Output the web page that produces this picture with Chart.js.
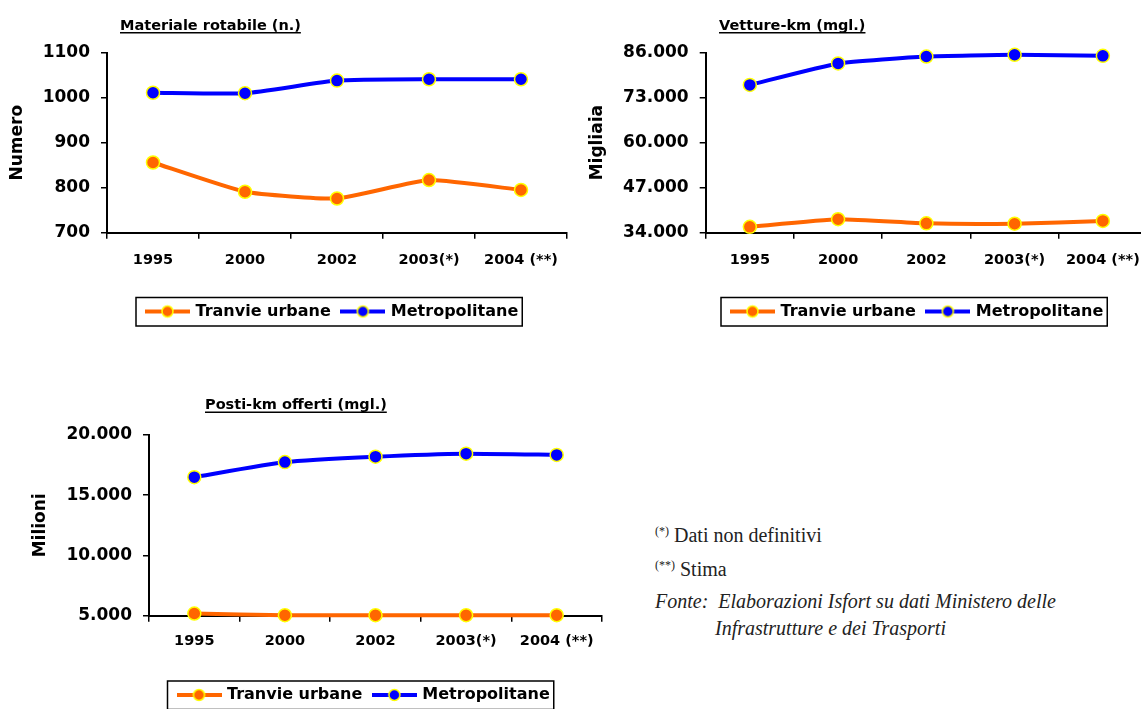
<!DOCTYPE html>
<html lang="it">
<head>
<meta charset="utf-8">
<title>Tranvie urbane e metropolitane</title>
<script src="https://cdn.jsdelivr.net/npm/chart.js@4.4.1/dist/chart.umd.min.js"></script>
<style>
  body { margin: 0; background: #fff; overflow: hidden; width: 1141px; height: 709px; position: relative; }
  canvas { position: absolute; }
  .nota { position: absolute; font-family: "Liberation Serif", serif; font-size: 20px; line-height: 22px; color: #222; white-space: nowrap; }
  .nota .sup { font-size: 12px; vertical-align: 7px; }
  .nota i { font-style: italic; }
</style>
</head>
<body>
<canvas id="c1" width="575" height="335" style="left:0px;top:0px"></canvas>
<canvas id="c2" width="575" height="335" style="left:580px;top:0px"></canvas>
<canvas id="c3" width="610" height="340" style="left:0px;top:380px"></canvas>

<div class="nota" style="left:655px;top:520px"><span class="sup">(*)</span> Dati non definitivi</div>
<div class="nota" style="left:655px;top:554px"><span class="sup">(**)</span> Stima</div>
<div class="nota" style="left:655px;top:590px"><i>Fonte:&nbsp; Elaborazioni Isfort su dati Ministero delle</i></div>
<div class="nota" style="left:715px;top:617px"><i>Infrastrutture e dei Trasporti</i></div>

<script>
// categorie
const anni = ["1995", "2000", "2002", "2003(*)", "2004 (**)"];

// Materiale rotabile (n.)
const materialeTranvie = [856, 791, 776, 817, 795];
const materialeMetro = [1011, 1010, 1038, 1041, 1041];

// Vetture-km (mgl.)
const vettureTranvie = [35700, 37900, 36700, 36600, 37400];
const vettureMetro = [76700, 82900, 84900, 85400, 85100];

// Posti-km offerti (mgl.)
const postiTranvie = [5180, 5040, 5040, 5040, 5040];
const postiMetro = [16500, 17750, 18200, 18450, 18350];

const arancio = "#FF6600";
const blu = "#0000FF";
const giallo = "#FFFF00";
const font = "'DejaVu Sans', sans-serif";

function migliaia(v) {
    return String(v).replace(/\B(?=(\d{3})+(?!\d))/g, ".");
}

// icona della legenda: linea con pallino
function icona(colore) {
    const c = document.createElement("canvas");
    c.width = 45;
    c.height = 16;
    const g = c.getContext("2d");
    g.fillStyle = colore;
    g.fillRect(0, 6, 45, 4);
    g.beginPath();
    g.arc(22.5, 8, 5.5, 0, Math.PI * 2);
    g.fill();
    g.lineWidth = 1.5;
    g.strokeStyle = giallo;
    g.stroke();
    return c;
}
const icone = [icona(arancio), icona(blu)];

// titolo sottolineato, posizione della legenda e cornice
const cornice = {
    id: "cornice",
    beforeDraw(chart, args, o) {
        const lg = chart.legend;
        lg.left = o.legendaX + 2.5 - 12;
        lg.right = lg.left + 2000;
        lg.top = o.legendaY - 12 - 8;
    },
    afterDraw(chart, args, o) {
        const ctx = chart.ctx;
        const lg = chart.legend;
        ctx.save();
        ctx.font = "bold 14.5px " + font;
        ctx.fillStyle = "#000";
        ctx.textBaseline = "alphabetic";
        ctx.fillText(o.titolo, o.titoloX, o.titoloY);
        const w = ctx.measureText(o.titolo).width;
        ctx.fillRect(o.titoloX, o.titoloY + 2.5, w, 1.5);

        ctx.lineWidth = 1.5;
        ctx.strokeStyle = "#000";
        const x1 = o.legendaX - 9;
        const x2 = lg.left + lg.lineWidths[0] + 4;
        ctx.strokeRect(x1, o.legendaY - 14, x2 - x1, 28.5);
        ctx.restore();
    }
};

function grafico(id, c) {
    const serie = [
        { label: "Tranvie urbane", data: c.tranvie, colore: arancio },
        { label: "Metropolitane", data: c.metro, colore: blu }
    ];
    return new Chart(id, {
        type: "line",
        data: {
            labels: anni,
            datasets: serie.map(s => ({
                label: s.label,
                data: s.data,
                borderColor: s.colore,
                backgroundColor: s.colore,
                pointBackgroundColor: s.colore,
                pointBorderColor: giallo,
                pointBorderWidth: 1.5,
                pointRadius: 6.5,
                borderWidth: 4,
                tension: 0.15,
                clip: false
            }))
        },
        options: {
            responsive: false,
            animation: false,
            layout: { padding: { top: c.padTop, left: 0, right: c.padRight, bottom: 0 } },
            plugins: {
                legend: {
                    position: "bottom",
                    align: "start",
                    labels: {
                        usePointStyle: true,
                        pointStyleWidth: 40,
                        boxHeight: 16,
                        padding: 12,
                        color: "#000",
                        font: { family: font, weight: "bold", size: 16 },
                        generateLabels(chart) {
                            const items = Chart.defaults.plugins.legend.labels.generateLabels(chart);
                            items.forEach((it, i) => { it.pointStyle = icone[i]; });
                            return items;
                        }
                    }
                },
                tooltip: { enabled: false },
                cornice: {
                    titolo: c.titolo,
                    titoloX: c.titoloX,
                    titoloY: c.titoloY,
                    legendaX: c.legendaX,
                    legendaY: c.legendaY
                }
            },
            scales: {
                x: {
                    offset: true,
                    ticks: {
                        color: "#000",
                        maxRotation: 0,
                        autoSkip: false,
                        padding: c.xPad,
                        font: { family: font, weight: "bold", size: 14.5 }
                    },
                    grid: { offset: true, drawOnChartArea: false, tickLength: 6, color: "#000", lineWidth: 1.5 },
                    border: { color: "#000", width: 2 },
                    afterFit(s) { s.height = s.chart.height - s.chart.legend.height - c.fondo; }
                },
                y: {
                    min: c.min,
                    max: c.max,
                    ticks: {
                        stepSize: c.passo,
                        color: "#000",
                        padding: 11,
                        font: { family: font, weight: "bold", size: 17 },
                        callback: v => c.formato(v)
                    },
                    grid: { drawOnChartArea: false, tickLength: 6, color: "#000", lineWidth: 1.5 },
                    border: { color: "#000", width: 2 },
                    title: {
                        display: true,
                        text: c.asse,
                        color: "#000",
                        font: { family: font, weight: "bold", size: 17 },
                        padding: { top: c.asseX, bottom: 0 }
                    },
                    afterFit(s) { s.width = c.larghezzaY; }
                }
            }
        },
        plugins: [cornice]
    });
}

grafico("c1", {
    titolo: "Materiale rotabile (n.)", titoloX: 120, titoloY: 29.5,
    asse: "Numero", asseX: 7.3,
    tranvie: materialeTranvie, metro: materialeMetro,
    min: 700, max: 1100, passo: 100, formato: v => String(v),
    larghezzaY: 107, padTop: 52.7, padRight: 5.5, fondo: 232.7,
    xPad: 13, legendaX: 145, legendaY: 311.5
});

grafico("c2", {
    titolo: "Vetture-km (mgl.)", titoloX: 139, titoloY: 29.5,
    asse: "Migliaia", asseX: 7.3,
    tranvie: vettureTranvie, metro: vettureMetro,
    min: 34000, max: 86000, passo: 13000, formato: migliaia,
    larghezzaY: 125.7, padTop: 52.7, padRight: 3, fondo: 232.7,
    xPad: 13, legendaX: 150, legendaY: 311.5
});

grafico("c3", {
    titolo: "Posti-km offerti (mgl.)", titoloX: 205, titoloY: 29,
    asse: "Milioni", asseX: 30,
    tranvie: postiTranvie, metro: postiMetro,
    min: 5000, max: 20000, passo: 5000, formato: migliaia,
    larghezzaY: 149, padTop: 55, padRight: 8, fondo: 235.7,
    xPad: 11.3, legendaX: 176.5, legendaY: 315
});
</script>
</body>
</html>
